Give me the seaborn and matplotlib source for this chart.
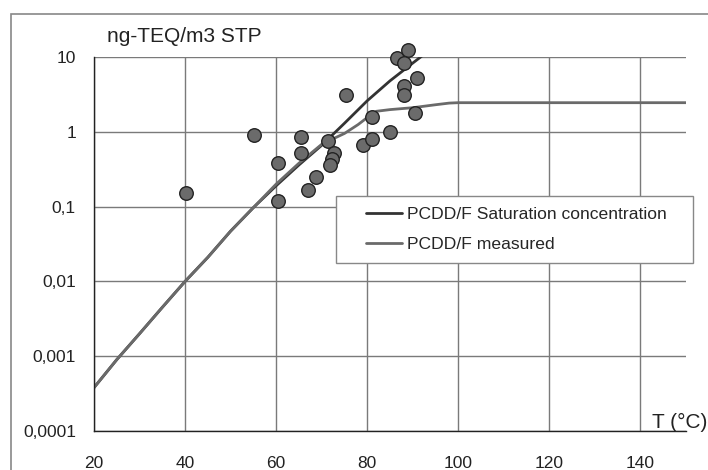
import matplotlib
matplotlib.use("Agg")
import matplotlib.pyplot as plt
import matplotlib.patches as mpatches
from matplotlib.ticker import FixedLocator, FixedFormatter, NullLocator
import pandas as pd
import seaborn as sns

# saturation concentration curve
sat_T = [20, 25, 30, 35, 40, 45, 50, 55, 60, 65, 70, 75, 80, 85, 90, 92]
sat_C = [0.00038, 0.0009, 0.002, 0.0045, 0.01, 0.021, 0.047, 0.097, 0.19,
         0.36, 0.66, 1.3, 2.6, 4.8, 8.3, 10.3]

# measured curve
meas_T = [20, 25, 30, 35, 40, 45, 50, 55, 60, 65, 70, 72, 75, 78, 80, 82, 85,
          90, 95, 98, 100, 150]
meas_C = [0.00038, 0.0009, 0.002, 0.0045, 0.01, 0.021, 0.047, 0.097, 0.2,
          0.38, 0.68, 0.78, 0.95, 1.25, 1.55, 1.88, 1.98, 2.1, 2.3, 2.42,
          2.45, 2.45]

# measured samples
pts_T = [40.2, 55.2, 60.5, 60.5, 65.4, 65.5, 67.0, 68.8, 71.3, 72.7, 72.3,
         71.8, 75.3, 79.1, 81.1, 81.1, 85.1, 86.6, 89.0, 88.0, 90.9, 88.0,
         88.0, 90.5]
pts_C = [0.153, 0.9, 0.38, 0.119, 0.86, 0.515, 0.167, 0.25, 0.75, 0.526,
         0.43, 0.36, 3.1, 0.66, 0.81, 1.56, 0.99, 9.7, 12.4, 8.2, 5.3, 4.1,
         3.1, 1.8]

y_ticks = [0.0001, 0.001, 0.01, 0.1, 1, 10]
y_labels = ["0,0001", "0,001", "0,01", "0,1", "1", "10"]
x_ticks = [20, 40, 60, 80, 100, 120, 140]

sns.set_style("white")
plt.rcParams["font.family"] = ["Liberation Sans", "DejaVu Sans"]
plt.rcParams["font.size"] = 12.5

fig = plt.figure(figsize=(7.08, 4.70), dpi=100)
ax = fig.add_axes([94 / 708, 1 - 431 / 470, 592 / 708, 374 / 470])

sat = pd.DataFrame({"T": sat_T, "C": sat_C})
meas = pd.DataFrame({"T": meas_T, "C": meas_C})
pts = pd.DataFrame({"T": pts_T, "C": pts_C})

sns.lineplot(data=sat, x="T", y="C", ax=ax, color="#333333", lw=2,
             label="PCDD/F Saturation concentration")
sns.lineplot(data=meas, x="T", y="C", ax=ax, color="#6a6a6a", lw=2,
             label="PCDD/F measured")
sns.scatterplot(data=pts, x="T", y="C", ax=ax, color="#6b6b6b",
                edgecolor="#222222", linewidth=1, s=95, legend=False,
                zorder=5, clip_on=False)

ax.set_yscale("log")
ax.set_xlim(20, 150)
ax.set_ylim(0.0001, 10)
ax.yaxis.set_major_locator(FixedLocator(y_ticks))
ax.yaxis.set_major_formatter(FixedFormatter(y_labels))
ax.yaxis.set_minor_locator(NullLocator())
ax.set_xticks(x_ticks)
ax.grid(True, color="#7a7a7a", lw=1)
ax.set_axisbelow(True)
for s in ["top", "right"]:
    ax.spines[s].set_visible(False)
for s in ["left", "bottom"]:
    ax.spines[s].set_color("#222222")
    ax.spines[s].set_linewidth(1)
ax.tick_params(axis="both", which="major", width=1, color="#222222",
               labelsize=12.5, labelcolor="#222222")
ax.tick_params(axis="y", direction="out", length=4, pad=9)
ax.tick_params(axis="x", direction="inout", length=6, pad=15)
ax.set_xlabel("")
ax.set_ylabel("")

fig.text(107 / 708, 1 - 42 / 470, "ng-TEQ/m3 STP", fontsize=15,
         va="baseline", ha="left", color="#222222")
fig.text(652 / 708, 1 - 428 / 470, "T (°C)", fontsize=15,
         va="baseline", ha="left", color="#222222")

# legend: white box drawn by hand, frameless legend inside it
box = mpatches.Rectangle((0.408, 0.448), 0.603, 0.181, transform=ax.transAxes,
                         facecolor="white", edgecolor="#888888", lw=1,
                         clip_on=False, zorder=6)
ax.add_patch(box)
leg = ax.legend(loc="center left", bbox_to_anchor=(0.4595, 0.538),
                frameon=False, fontsize=12.6, borderpad=0, borderaxespad=0,
                handlelength=2.07, handletextpad=0.27, labelspacing=0.85)
leg.set_zorder(7)

# outer frame of the figure
fig.patches.append(mpatches.Rectangle((11 / 708, -0.1), 1.2, 1 - 14 / 470 + 0.1,
                                      transform=fig.transFigure, fill=False,
                                      edgecolor="#888888", lw=1.2))

fig.savefig("out.png", dpi=100)
